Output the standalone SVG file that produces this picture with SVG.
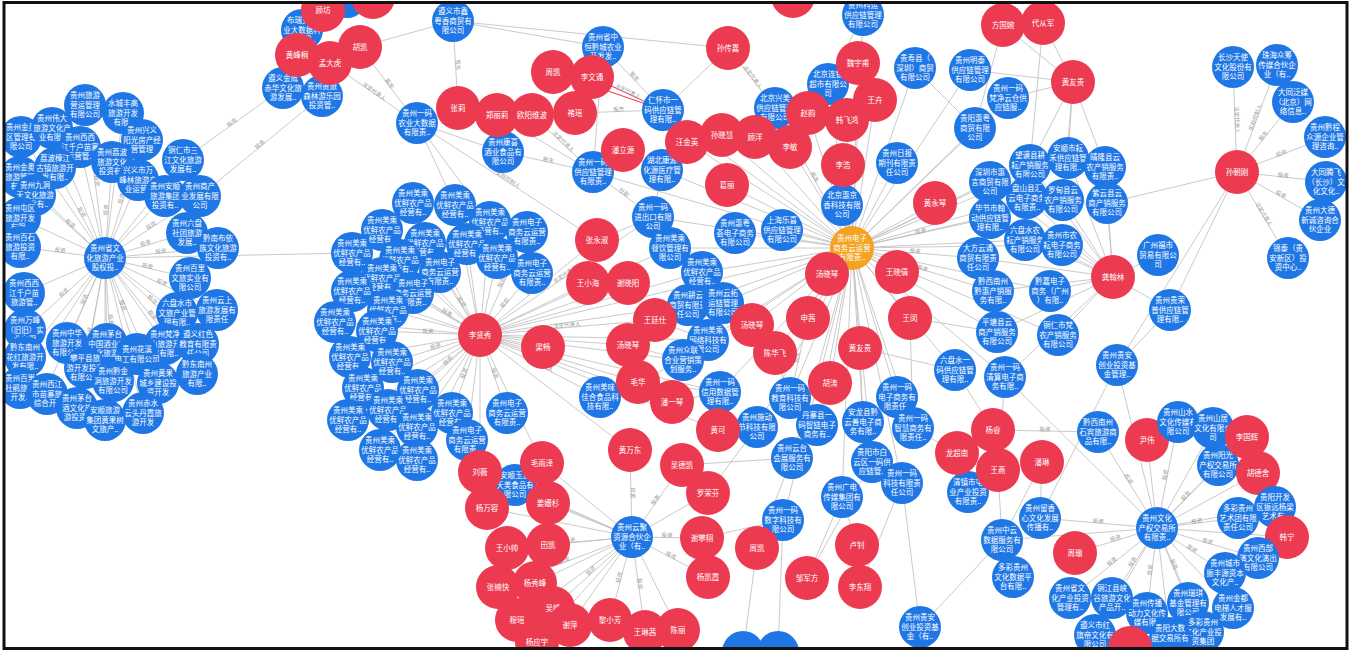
<svg xmlns="http://www.w3.org/2000/svg" width="1356" height="652" viewBox="0 0 1356 652">
<defs>
<style>
.b circle{fill:#1f77e5}
.r circle{fill:#ec3a50}
.o circle{fill:#f4a21f}
.nodes text{font-family:"Noto Sans CJK SC","Noto Sans",sans-serif;font-size:7.5px;fill:#fff;text-anchor:middle}
.edges line{stroke:#bdbdbd;stroke-width:0.8}
.edges line.hl{stroke:#e8344a;stroke-width:1}
.el text{font-family:"Noto Sans CJK SC","Noto Sans",sans-serif;font-size:5.5px;fill:#9a9a9a;text-anchor:middle}
</style>
<clipPath id="frame"><rect x="5" y="4" width="1341" height="644"/></clipPath>
</defs>
<rect width="1356" height="652" fill="#fff"/>
<g clip-path="url(#frame)">
<g id="connectors" class="edges">
<line x1="105" y1="258" x2="85" y2="105"/><line x1="105" y1="258" x2="123" y2="113"/><line x1="105" y1="258" x2="52" y2="128"/><line x1="105" y1="258" x2="21" y2="137"/><line x1="105" y1="258" x2="80" y2="147"/><line x1="105" y1="258" x2="142" y2="140"/><line x1="105" y1="258" x2="183" y2="160"/><line x1="105" y1="258" x2="112" y2="162"/><line x1="105" y1="258" x2="138" y2="180"/><line x1="105" y1="258" x2="55" y2="168"/><line x1="105" y1="258" x2="165" y2="196"/><line x1="105" y1="258" x2="200" y2="196"/><line x1="105" y1="258" x2="33" y2="193"/><line x1="105" y1="258" x2="187" y2="233"/><line x1="105" y1="258" x2="218" y2="248"/><line x1="105" y1="258" x2="190" y2="278"/><line x1="105" y1="258" x2="177" y2="313"/><line x1="105" y1="258" x2="217" y2="310"/><line x1="105" y1="258" x2="198" y2="344"/><line x1="105" y1="258" x2="165" y2="344"/><line x1="105" y1="258" x2="137" y2="354"/><line x1="105" y1="258" x2="107" y2="344"/><line x1="105" y1="258" x2="67" y2="343"/><line x1="105" y1="258" x2="25" y2="357"/><line x1="105" y1="258" x2="85" y2="368"/><line x1="105" y1="258" x2="113" y2="381"/><line x1="105" y1="258" x2="158" y2="383"/><line x1="105" y1="258" x2="197" y2="374"/><line x1="105" y1="258" x2="45" y2="392"/><line x1="105" y1="258" x2="20" y2="388"/><line x1="105" y1="258" x2="77" y2="408"/><line x1="105" y1="258" x2="105" y2="420"/><line x1="105" y1="258" x2="143" y2="413"/><line x1="105" y1="258" x2="25" y2="330"/><line x1="105" y1="258" x2="20" y2="247"/><line x1="105" y1="258" x2="20" y2="218"/><line x1="105" y1="258" x2="24" y2="293"/><line x1="105" y1="258" x2="20" y2="177"/><line x1="105" y1="258" x2="352" y2="253"/>
<line x1="183" y1="160" x2="283" y2="88"/><line x1="200" y1="196" x2="322" y2="96"/>
<line x1="330" y1="63" x2="417" y2="123"/><line x1="360" y1="47" x2="417" y2="123"/><line x1="453" y1="21" x2="458" y2="108"/><line x1="453" y1="21" x2="728" y2="48"/><line x1="453" y1="21" x2="603" y2="47"/><line x1="297" y1="55" x2="302" y2="30"/><line x1="360" y1="47" x2="453" y2="21"/>
<line class="hl" x1="553" y1="72" x2="663" y2="110"/><line class="hl" x1="592" y1="77" x2="663" y2="110"/>
<line x1="575" y1="113" x2="663" y2="110"/><line x1="603" y1="47" x2="663" y2="110"/><line x1="603" y1="47" x2="593" y2="172"/><line x1="532" y1="115" x2="593" y2="172"/><line x1="497" y1="115" x2="593" y2="172"/><line x1="503" y1="152" x2="593" y2="172"/><line x1="417" y1="123" x2="503" y2="152"/><line x1="417" y1="123" x2="455" y2="205"/><line x1="417" y1="123" x2="597" y2="240"/><line x1="417" y1="123" x2="490" y2="222"/><line x1="623" y1="150" x2="593" y2="172"/><line x1="623" y1="150" x2="662" y2="170"/><line x1="593" y1="172" x2="653" y2="217"/><line x1="662" y1="170" x2="653" y2="217"/><line x1="597" y1="240" x2="653" y2="217"/><line x1="597" y1="240" x2="480" y2="335"/><line x1="588" y1="283" x2="480" y2="335"/><line x1="628" y1="283" x2="480" y2="335"/><line x1="687" y1="142" x2="662" y2="170"/><line x1="728" y1="48" x2="775" y2="108"/><line x1="728" y1="48" x2="663" y2="110"/><line x1="863" y1="15" x2="828" y2="84"/><line x1="663" y1="110" x2="852" y2="248"/>
<line x1="852" y1="248" x2="863" y2="15"/><line x1="852" y1="248" x2="858" y2="63"/><line x1="852" y1="248" x2="828" y2="84"/><line x1="852" y1="248" x2="915" y2="68"/><line x1="852" y1="248" x2="970" y2="70"/><line x1="852" y1="248" x2="875" y2="100"/><line x1="852" y1="248" x2="847" y2="120"/><line x1="852" y1="248" x2="808" y2="113"/><line x1="852" y1="248" x2="790" y2="147"/><line x1="852" y1="248" x2="843" y2="165"/><line x1="852" y1="248" x2="897" y2="163"/><line x1="852" y1="248" x2="975" y2="128"/><line x1="852" y1="248" x2="1008" y2="98"/><line x1="852" y1="248" x2="842" y2="205"/><line x1="852" y1="248" x2="782" y2="230"/><line x1="852" y1="248" x2="735" y2="233"/><line x1="852" y1="248" x2="727" y2="185"/><line x1="852" y1="248" x2="775" y2="108"/><line x1="852" y1="248" x2="722" y2="135"/><line x1="852" y1="248" x2="755" y2="137"/><line x1="852" y1="248" x2="687" y2="142"/><line x1="852" y1="248" x2="935" y2="203"/><line x1="852" y1="248" x2="827" y2="274"/><line x1="852" y1="248" x2="897" y2="272"/><line x1="852" y1="248" x2="653" y2="217"/><line x1="852" y1="248" x2="670" y2="248"/><line x1="852" y1="248" x2="662" y2="170"/><line x1="852" y1="248" x2="593" y2="172"/><line x1="852" y1="248" x2="480" y2="335"/><line x1="852" y1="248" x2="990" y2="182"/><line x1="852" y1="248" x2="990" y2="218"/><line x1="852" y1="248" x2="978" y2="258"/><line x1="852" y1="248" x2="993" y2="291"/><line x1="852" y1="248" x2="997" y2="332"/><line x1="852" y1="248" x2="955" y2="370"/><line x1="852" y1="248" x2="1005" y2="377"/><line x1="852" y1="248" x2="1027" y2="198"/><line x1="852" y1="248" x2="1025" y2="240"/><line x1="852" y1="248" x2="1030" y2="165"/><line x1="852" y1="248" x2="1050" y2="291"/><line x1="852" y1="248" x2="1058" y2="335"/><line x1="852" y1="248" x2="1068" y2="158"/><line x1="852" y1="248" x2="1062" y2="245"/><line x1="852" y1="248" x2="1063" y2="200"/><line x1="852" y1="248" x2="702" y2="272"/><line x1="852" y1="248" x2="723" y2="303"/><line x1="852" y1="248" x2="752" y2="325"/><line x1="852" y1="248" x2="808" y2="318"/><line x1="852" y1="248" x2="910" y2="318"/><line x1="852" y1="248" x2="708" y2="340"/><line x1="852" y1="248" x2="775" y2="353"/><line x1="852" y1="248" x2="860" y2="348"/><line x1="852" y1="248" x2="830" y2="383"/><line x1="852" y1="248" x2="790" y2="398"/><line x1="852" y1="248" x2="897" y2="397"/><line x1="852" y1="248" x2="817" y2="425"/><line x1="852" y1="248" x2="863" y2="422"/><line x1="852" y1="248" x2="913" y2="428"/><line x1="852" y1="248" x2="720" y2="392"/><line x1="852" y1="248" x2="757" y2="427"/><line x1="852" y1="248" x2="792" y2="458"/><line x1="852" y1="248" x2="872" y2="462"/><line x1="852" y1="248" x2="902" y2="483"/><line x1="852" y1="248" x2="842" y2="497"/><line x1="852" y1="248" x2="783" y2="520"/><line x1="852" y1="248" x2="688" y2="305"/><line x1="852" y1="248" x2="683" y2="360"/>
<line x1="1073" y1="82" x2="1008" y2="98"/><line x1="1073" y1="82" x2="970" y2="70"/><line x1="1073" y1="82" x2="1068" y2="158"/><line x1="1073" y1="82" x2="1030" y2="165"/><line x1="1073" y1="82" x2="1105" y2="167"/><line x1="1073" y1="82" x2="1063" y2="200"/><line x1="1073" y1="82" x2="1003" y2="25"/><line x1="1073" y1="82" x2="1043" y2="23"/><line x1="1003" y1="25" x2="975" y2="128"/><line x1="1043" y1="23" x2="1030" y2="165"/><line x1="915" y1="68" x2="975" y2="128"/>
<line x1="1113" y1="277" x2="990" y2="182"/><line x1="1113" y1="277" x2="1068" y2="158"/><line x1="1113" y1="277" x2="1030" y2="165"/><line x1="1113" y1="277" x2="990" y2="218"/><line x1="1113" y1="277" x2="1027" y2="198"/><line x1="1113" y1="277" x2="1063" y2="200"/><line x1="1113" y1="277" x2="1025" y2="240"/><line x1="1113" y1="277" x2="1062" y2="245"/><line x1="1113" y1="277" x2="978" y2="258"/><line x1="1113" y1="277" x2="993" y2="291"/><line x1="1113" y1="277" x2="1050" y2="291"/><line x1="1113" y1="277" x2="1105" y2="167"/><line x1="1113" y1="277" x2="1107" y2="203"/><line x1="1113" y1="277" x2="997" y2="332"/><line x1="1113" y1="277" x2="1058" y2="335"/><line x1="1113" y1="277" x2="1158" y2="255"/><line x1="1113" y1="277" x2="1170" y2="310"/><line x1="1113" y1="277" x2="1005" y2="377"/>
<line x1="1237" y1="172" x2="1233" y2="67"/><line x1="1237" y1="172" x2="1277" y2="65"/><line x1="1237" y1="172" x2="1293" y2="102"/><line x1="1237" y1="172" x2="1327" y2="137"/><line x1="1237" y1="172" x2="1330" y2="182"/><line x1="1237" y1="172" x2="1322" y2="220"/><line x1="1237" y1="172" x2="1288" y2="258"/><line x1="1237" y1="172" x2="1107" y2="203"/><line x1="1237" y1="172" x2="1117" y2="365"/><line x1="1237" y1="172" x2="1170" y2="310"/>
<line x1="808" y1="318" x2="790" y2="398"/><line x1="775" y1="353" x2="790" y2="398"/><line x1="830" y1="383" x2="817" y2="425"/><line x1="860" y1="348" x2="863" y2="422"/><line x1="910" y1="318" x2="913" y2="428"/><line x1="638" y1="382" x2="720" y2="392"/><line x1="672" y1="402" x2="720" y2="392"/><line x1="718" y1="430" x2="757" y2="427"/><line x1="718" y1="430" x2="720" y2="392"/><line x1="655" y1="320" x2="708" y2="340"/><line x1="628" y1="345" x2="683" y2="360"/><line x1="638" y1="382" x2="683" y2="360"/><line x1="910" y1="318" x2="997" y2="332"/><line x1="860" y1="348" x2="955" y2="370"/>
<line x1="792" y1="458" x2="757" y2="548"/><line x1="783" y1="520" x2="757" y2="548"/><line x1="842" y1="497" x2="857" y2="545"/><line x1="902" y1="483" x2="860" y2="587"/><line x1="872" y1="462" x2="807" y2="578"/><line x1="842" y1="497" x2="807" y2="578"/><line x1="757" y1="427" x2="708" y2="493"/><line x1="792" y1="458" x2="682" y2="465"/><line x1="783" y1="520" x2="702" y2="538"/><line x1="902" y1="483" x2="920" y2="627"/><line x1="757" y1="548" x2="743" y2="652"/><line x1="783" y1="520" x2="778" y2="652"/>
<line x1="632" y1="537" x2="480" y2="472"/><line x1="632" y1="537" x2="542" y2="463"/><line x1="632" y1="537" x2="548" y2="503"/><line x1="632" y1="537" x2="487" y2="508"/><line x1="632" y1="537" x2="630" y2="450"/><line x1="632" y1="537" x2="682" y2="465"/><line x1="632" y1="537" x2="708" y2="493"/><line x1="632" y1="537" x2="702" y2="538"/><line x1="632" y1="537" x2="708" y2="577"/><line x1="632" y1="537" x2="507" y2="548"/><line x1="632" y1="537" x2="548" y2="545"/><line x1="632" y1="537" x2="498" y2="587"/><line x1="632" y1="537" x2="535" y2="583"/><line x1="632" y1="537" x2="553" y2="608"/><line x1="632" y1="537" x2="517" y2="620"/><line x1="632" y1="537" x2="570" y2="625"/><line x1="632" y1="537" x2="610" y2="620"/><line x1="632" y1="537" x2="645" y2="632"/><line x1="632" y1="537" x2="678" y2="630"/><line x1="632" y1="537" x2="537" y2="642"/><line x1="632" y1="537" x2="515" y2="485"/>
<line x1="480" y1="335" x2="630" y2="450"/><line x1="480" y1="335" x2="542" y2="463"/><line x1="480" y1="335" x2="480" y2="472"/><line x1="480" y1="335" x2="600" y2="397"/><line x1="515" y1="485" x2="480" y2="472"/><line x1="515" y1="485" x2="542" y2="463"/>
<line x1="480" y1="335" x2="413" y2="203"/><line x1="480" y1="335" x2="455" y2="205"/><line x1="480" y1="335" x2="490" y2="222"/><line x1="480" y1="335" x2="527" y2="232"/><line x1="480" y1="335" x2="382" y2="230"/><line x1="480" y1="335" x2="425" y2="243"/><line x1="480" y1="335" x2="467" y2="244"/><line x1="480" y1="335" x2="497" y2="258"/><line x1="480" y1="335" x2="532" y2="273"/><line x1="480" y1="335" x2="400" y2="260"/><line x1="480" y1="335" x2="440" y2="272"/><line x1="480" y1="335" x2="382" y2="278"/><line x1="480" y1="335" x2="352" y2="291"/><line x1="480" y1="335" x2="413" y2="293"/><line x1="480" y1="335" x2="388" y2="310"/><line x1="480" y1="335" x2="335" y2="322"/><line x1="480" y1="335" x2="377" y2="331"/><line x1="480" y1="335" x2="350" y2="357"/><line x1="480" y1="335" x2="392" y2="362"/><line x1="480" y1="335" x2="363" y2="388"/><line x1="480" y1="335" x2="418" y2="390"/><line x1="480" y1="335" x2="388" y2="410"/><line x1="480" y1="335" x2="452" y2="413"/><line x1="480" y1="335" x2="348" y2="420"/><line x1="480" y1="335" x2="417" y2="427"/><line x1="480" y1="335" x2="380" y2="450"/><line x1="480" y1="335" x2="417" y2="460"/><line x1="480" y1="335" x2="467" y2="440"/><line x1="480" y1="335" x2="507" y2="413"/><line x1="480" y1="335" x2="543" y2="347"/><line x1="480" y1="335" x2="352" y2="253"/><line x1="480" y1="335" x2="655" y2="320"/><line x1="480" y1="335" x2="628" y2="345"/><line x1="480" y1="335" x2="638" y2="382"/><line x1="480" y1="335" x2="672" y2="402"/><line x1="480" y1="335" x2="683" y2="360"/><line x1="480" y1="335" x2="720" y2="392"/><line x1="480" y1="335" x2="708" y2="340"/><line x1="480" y1="335" x2="688" y2="305"/><line x1="480" y1="335" x2="702" y2="272"/><line x1="480" y1="335" x2="670" y2="248"/><line x1="480" y1="335" x2="653" y2="217"/><line x1="480" y1="335" x2="718" y2="430"/>
<line x1="1157" y1="528" x2="1098" y2="432"/><line x1="1157" y1="528" x2="1147" y2="440"/><line x1="1157" y1="528" x2="1178" y2="422"/><line x1="1157" y1="528" x2="1213" y2="428"/><line x1="1157" y1="528" x2="1218" y2="465"/><line x1="1157" y1="528" x2="1247" y2="437"/><line x1="1157" y1="528" x2="1258" y2="473"/><line x1="1157" y1="528" x2="1238" y2="518"/><line x1="1157" y1="528" x2="1275" y2="507"/><line x1="1157" y1="528" x2="1287" y2="537"/><line x1="1157" y1="528" x2="1258" y2="558"/><line x1="1157" y1="528" x2="1225" y2="573"/><line x1="1157" y1="528" x2="1070" y2="598"/><line x1="1157" y1="528" x2="1112" y2="598"/><line x1="1157" y1="528" x2="1147" y2="613"/><line x1="1157" y1="528" x2="1188" y2="603"/><line x1="1157" y1="528" x2="1233" y2="608"/><line x1="1157" y1="528" x2="1095" y2="635"/><line x1="1157" y1="528" x2="1170" y2="638"/><line x1="1157" y1="528" x2="1203" y2="632"/><line x1="1157" y1="528" x2="1040" y2="518"/><line x1="1157" y1="528" x2="1075" y2="553"/><line x1="1157" y1="528" x2="1005" y2="377"/><line x1="1157" y1="528" x2="1117" y2="365"/><line x1="1157" y1="528" x2="1002" y2="540"/>
<line x1="993" y1="430" x2="1098" y2="432"/><line x1="957" y1="453" x2="968" y2="492"/><line x1="998" y1="470" x2="1002" y2="540"/><line x1="1042" y1="462" x2="1002" y2="540"/><line x1="1002" y1="540" x2="1013" y2="577"/><line x1="1002" y1="540" x2="920" y2="627"/><line x1="1040" y1="518" x2="1042" y2="462"/><line x1="955" y1="370" x2="993" y2="430"/><line x1="1005" y1="377" x2="998" y2="470"/><line x1="913" y1="428" x2="957" y2="453"/><line x1="1170" y1="310" x2="1117" y2="365"/><line x1="1117" y1="365" x2="1040" y2="518"/>
</g>
<g id="edge-labels" class="el">
<text transform="translate(95,181) rotate(83)">投资</text><text transform="translate(123,199) rotate(-73)">投资</text><text transform="translate(152,227) rotate(-33)">投资</text><text transform="translate(161,253) rotate(-5)">投资</text><text transform="translate(147,268) rotate(13)">投资</text><text transform="translate(161,284) rotate(25)">投资</text><text transform="translate(151,301) rotate(43)">投资</text><text transform="translate(121,306) rotate(72)">投资</text><text transform="translate(86,300) rotate(-66)">投资</text><text transform="translate(109,320) rotate(86)">投资</text><text transform="translate(65,294) rotate(-42)">投资</text><text transform="translate(60,252) rotate(7)">投资</text><text transform="translate(69,225) rotate(42)">投资</text><text transform="translate(80,213) rotate(61)">投资</text><text transform="translate(108,210) rotate(-86)">投资</text><text transform="translate(146,245) rotate(-17)">投资</text><text transform="translate(151,316) rotate(52)">投资</text><text transform="translate(91,333) rotate(-79)">投资</text>
<text transform="translate(373,93) rotate(35)">法定代表人</text><text transform="translate(388,85) rotate(53)">股东</text><text transform="translate(456,65) rotate(87)">股东</text><text transform="translate(233,124) rotate(-36)">投资</text><text transform="translate(261,146) rotate(-39)">投资</text>
<text transform="translate(627,93) rotate(25)">法定代表人</text><text transform="translate(619,111) rotate(-2)">股东</text><text transform="translate(633,78) rotate(46)">股东</text><text transform="translate(562,143) rotate(43)">法定代表人</text><text transform="translate(548,162) rotate(12)">股东</text><text transform="translate(623,194) rotate(37)">任职</text><text transform="translate(507,181) rotate(33)">实际控制人</text><text transform="translate(751,78) rotate(52)">法定代表人</text>
<text transform="translate(813,178) rotate(61)">股东</text><text transform="translate(915,253) rotate(4)">投资</text><text transform="translate(921,233) rotate(-12)">投资</text><text transform="translate(922,270) rotate(17)">投资</text><text transform="translate(821,323) rotate(-68)">任职</text><text transform="translate(881,283) rotate(50)">投资</text><text transform="translate(1051,247) rotate(26)">法定代表人</text>
<text transform="translate(1235,120) rotate(88)">法定代表人</text><text transform="translate(1257,118) rotate(-70)">实际控制人</text><text transform="translate(1265,137) rotate(-51)">股东</text><text transform="translate(1282,155) rotate(-21)">投资</text><text transform="translate(1283,177) rotate(6)">投资</text><text transform="translate(1280,196) rotate(30)">投资</text><text transform="translate(1262,215) rotate(59)">法定代表人</text>
<text transform="translate(1127,480) rotate(58)">投资</text><text transform="translate(1167,475) rotate(-79)">投资</text><text transform="translate(1187,497) rotate(-46)">投资</text><text transform="translate(1197,523) rotate(-7)">投资</text><text transform="translate(1098,523) rotate(5)">投资</text><text transform="translate(1116,540) rotate(-17)">投资</text><text transform="translate(1207,543) rotate(17)">投资</text><text transform="translate(1191,550) rotate(34)">投资</text><text transform="translate(1172,565) rotate(68)">投资</text><text transform="translate(1134,563) rotate(-57)">投资</text><text transform="translate(1152,570) rotate(-83)">投资</text><text transform="translate(1113,563) rotate(-39)">投资</text><text transform="translate(1045,431) rotate(1)">投资</text>
<text transform="translate(570,542) rotate(-5)">投资</text><text transform="translate(565,562) rotate(-20)">投资</text><text transform="translate(592,572) rotate(-42)">投资</text><text transform="translate(621,578) rotate(-75)">投资</text><text transform="translate(638,584) rotate(82)">投资</text><text transform="translate(667,537) rotate(1)">投资</text><text transform="translate(670,557) rotate(28)">投资</text><text transform="translate(631,493) rotate(89)">投资</text><text transform="translate(657,501) rotate(-55)">投资</text><text transform="translate(556,504) rotate(23)">投资</text>
<text transform="translate(503,283) rotate(-65)">投资</text><text transform="translate(506,304) rotate(-50)">投资</text><text transform="translate(460,303) rotate(58)">投资</text><text transform="translate(446,314) rotate(32)">投资</text><text transform="translate(428,333) rotate(2)">投资</text><text transform="translate(436,348) rotate(-17)">投资</text><text transform="translate(449,362) rotate(-42)">投资</text><text transform="translate(466,374) rotate(-70)">投资</text><text transform="translate(493,374) rotate(71)">投资</text><text transform="translate(540,366) rotate(27)">法定代表人</text><text transform="translate(567,327) rotate(-5)">法定代表人</text><text transform="translate(538,287) rotate(-39)">实际控制人</text><text transform="translate(566,276) rotate(-34)">法定代表人</text><text transform="translate(799,358) rotate(-77)">股东</text>
</g>
<g class="nodes">
<g id="L0" class="b" transform="translate(105,258)"><circle r="21"/><text><tspan x="0" y="-7">贵州省文</tspan><tspan x="0" y="2.5">化旅游产业</tspan><tspan x="0" y="12">股权投..</tspan></text></g>
<g id="L1" class="b" transform="translate(85,105)"><circle r="21"/><text><tspan x="0" y="-7">贵州旅游</tspan><tspan x="0" y="2.5">营运管理</tspan><tspan x="0" y="12">有限公司</tspan></text></g>
<g id="L2" class="b" transform="translate(123,113)"><circle r="21"/><text><tspan x="0" y="-7">水城丰高</tspan><tspan x="0" y="2.5">旅游开发</tspan><tspan x="0" y="12">有限..</tspan></text></g>
<g id="L4" class="b" transform="translate(21,137)"><circle r="21"/><text><tspan x="0" y="-7">贵州金奥</tspan><tspan x="0" y="2.5">区管理有</tspan><tspan x="0" y="12">限公司</tspan></text></g>
<g id="L3" class="b" transform="translate(52,128)"><circle r="21"/><text><tspan x="0" y="-7">贵州伟大</tspan><tspan x="0" y="2.5">旅游文化产</tspan><tspan x="0" y="12">业有限..</tspan></text></g>
<g id="L6" class="b" transform="translate(142,140)"><circle r="21"/><text><tspan x="0" y="-7">贵州兴义</tspan><tspan x="0" y="2.5">阳光房产经</tspan><tspan x="0" y="12">营管理</tspan></text></g>
<g id="L5" class="b" transform="translate(80,147)"><circle r="21"/><text><tspan x="0" y="-7">贵州西西</tspan><tspan x="0" y="2.5">江千户苗寨</tspan><tspan x="0" y="12">运营管..</tspan></text></g>
<g id="L38" class="b" transform="translate(20,177)"><circle r="21"/><text><tspan x="0" y="-7">贵州金奥</tspan><tspan x="0" y="2.5">旅游管理</tspan><tspan x="0" y="12">有限..</tspan></text></g>
<g id="L7" class="b" transform="translate(183,160)"><circle r="21"/><text><tspan x="0" y="-7">铜仁市三</tspan><tspan x="0" y="2.5">江文化旅游</tspan><tspan x="0" y="12">发展有..</tspan></text></g>
<g id="L10" class="b" transform="translate(55,168)"><circle r="21"/><text><tspan x="0" y="-7">荔波樟江</tspan><tspan x="0" y="2.5">古镇旅游开</tspan><tspan x="0" y="12">发有限..</tspan></text></g>
<g id="L8" class="b" transform="translate(112,162)"><circle r="21"/><text><tspan x="0" y="-7">贵州荔波</tspan><tspan x="0" y="2.5">旅游文化</tspan><tspan x="0" y="12">投资有..</tspan></text></g>
<g id="L9" class="b" transform="translate(138,180)"><circle r="21"/><text><tspan x="0" y="-7">兴义市万</tspan><tspan x="0" y="2.5">峰林旅游产</tspan><tspan x="0" y="12">业运营..</tspan></text></g>
<g id="L11" class="b" transform="translate(165,196)"><circle r="21"/><text><tspan x="0" y="-7">贵州安顺</tspan><tspan x="0" y="2.5">旅游集团</tspan><tspan x="0" y="12">投资有..</tspan></text></g>
<g id="L12" class="b" transform="translate(200,196)"><circle r="21"/><text><tspan x="0" y="-7">贵州商产</tspan><tspan x="0" y="2.5">业发展有限</tspan><tspan x="0" y="12">公司</tspan></text></g>
<g id="L13" class="b" transform="translate(35,195)"><circle r="21"/><text><tspan x="0" y="-7">贵州九洞</tspan><tspan x="0" y="2.5">天文化旅游</tspan><tspan x="0" y="12">开发有..</tspan></text></g>
<g id="L36" class="b" transform="translate(20,218)"><circle r="21"/><text><tspan x="0" y="-7">贵州屯区</tspan><tspan x="0" y="2.5">旅游开发</tspan><tspan x="0" y="12">有限..</tspan></text></g>
<g id="L14" class="b" transform="translate(187,233)"><circle r="21"/><text><tspan x="0" y="-7">贵州六盘</tspan><tspan x="0" y="2.5">社团旅游</tspan><tspan x="0" y="12">发展..</tspan></text></g>
<g id="L15" class="b" transform="translate(218,248)"><circle r="21"/><text><tspan x="0" y="-7">黔南布依</tspan><tspan x="0" y="2.5">族文化旅游</tspan><tspan x="0" y="12">投资有..</tspan></text></g>
<g id="L35" class="b" transform="translate(20,247)"><circle r="21"/><text><tspan x="0" y="-7">贵州百石</tspan><tspan x="0" y="2.5">旅游投资</tspan><tspan x="0" y="12">有限..</tspan></text></g>
<g id="L16" class="b" transform="translate(190,278)"><circle r="21"/><text><tspan x="0" y="-7">贵州百里</tspan><tspan x="0" y="2.5">文旅实业有</tspan><tspan x="0" y="12">限公司</tspan></text></g>
<g id="L37" class="b" transform="translate(24,293)"><circle r="21"/><text><tspan x="0" y="-7">贵州西西</tspan><tspan x="0" y="2.5">江千户苗</tspan><tspan x="0" y="12">旅游管..</tspan></text></g>
<g id="L17" class="b" transform="translate(177,313)"><circle r="21"/><text><tspan x="0" y="-7">六盘水市</tspan><tspan x="0" y="2.5">文旅产业管</tspan><tspan x="0" y="12">理有限..</tspan></text></g>
<g id="L18" class="b" transform="translate(217,310)"><circle r="21"/><text><tspan x="0" y="-7">贵州云上</tspan><tspan x="0" y="2.5">旅游发展有</tspan><tspan x="0" y="12">限责任</tspan></text></g>
<g id="L34" class="b" transform="translate(25,330)"><circle r="21"/><text><tspan x="0" y="-7">贵州万峰</tspan><tspan x="0" y="2.5">（旧旧）实</tspan><tspan x="0" y="12">业有限</tspan></text></g>
<g id="L23" class="b" transform="translate(67,343)"><circle r="21"/><text><tspan x="0" y="-7">贵州中华</tspan><tspan x="0" y="2.5">旅游开发</tspan><tspan x="0" y="12">有限公司</tspan></text></g>
<g id="L22" class="b" transform="translate(107,344)"><circle r="21"/><text><tspan x="0" y="-7">贵州茅台</tspan><tspan x="0" y="2.5">中国酒业文</tspan><tspan x="0" y="12">化旅游</tspan></text></g>
<g id="L20" class="b" transform="translate(165,344)"><circle r="21"/><text><tspan x="0" y="-7">贵州梵净</tspan><tspan x="0" y="2.5">山旅游开</tspan><tspan x="0" y="12">发有限..</tspan></text></g>
<g id="L19" class="b" transform="translate(198,344)"><circle r="21"/><text><tspan x="0" y="-7">遵义红色</tspan><tspan x="0" y="2.5">教育有限责</tspan><tspan x="0" y="12">任公司</tspan></text></g>
<g id="L21" class="b" transform="translate(137,354)"><circle r="21"/><text><tspan x="0" y="-2">贵州花溪</tspan><tspan x="0" y="7.5">电工有限公司</tspan></text></g>
<g id="L24" class="b" transform="translate(25,357)"><circle r="21"/><text><tspan x="0" y="-7">黔东南州</tspan><tspan x="0" y="2.5">花红旅游开</tspan><tspan x="0" y="12">发有限..</tspan></text></g>
<g id="L25" class="b" transform="translate(85,368)"><circle r="21"/><text><tspan x="0" y="-7">攀平县旅</tspan><tspan x="0" y="2.5">游开发投资</tspan><tspan x="0" y="12">有限公司</tspan></text></g>
<g id="L28" class="b" transform="translate(197,374)"><circle r="21"/><text><tspan x="0" y="-7">黔东南州</tspan><tspan x="0" y="2.5">旅游产业</tspan><tspan x="0" y="12">有限..</tspan></text></g>
<g id="L26" class="b" transform="translate(113,381)"><circle r="21"/><text><tspan x="0" y="-7">贵州黔金</tspan><tspan x="0" y="2.5">洞旅游开发</tspan><tspan x="0" y="12">有限公司</tspan></text></g>
<g id="L27" class="b" transform="translate(158,383)"><circle r="21"/><text><tspan x="0" y="-7">贵州黄果</tspan><tspan x="0" y="2.5">城乡建设投</tspan><tspan x="0" y="12">资开发</tspan></text></g>
<g id="L30" class="b" transform="translate(20,388)"><circle r="21"/><text><tspan x="0" y="-7">贵州百里</tspan><tspan x="0" y="2.5">杜鹃旅游</tspan><tspan x="0" y="12">开发..</tspan></text></g>
<g id="L29" class="b" transform="translate(47,394)"><circle r="21"/><text><tspan x="0" y="-7">贵州西江</tspan><tspan x="0" y="2.5">市苗寨旅</tspan><tspan x="0" y="12">综合开..</tspan></text></g>
<g id="L31" class="b" transform="translate(77,408)"><circle r="21"/><text><tspan x="0" y="-7">贵州茅台</tspan><tspan x="0" y="2.5">酒文化旅</tspan><tspan x="0" y="12">游投资..</tspan></text></g>
<g id="L33" class="b" transform="translate(143,413)"><circle r="21"/><text><tspan x="0" y="-7">贵州赤水</tspan><tspan x="0" y="2.5">云头丹霞旅</tspan><tspan x="0" y="12">游开发</tspan></text></g>
<g id="L32" class="b" transform="translate(105,420)"><circle r="21"/><text><tspan x="0" y="-7">安顺旅游</tspan><tspan x="0" y="2.5">集团黄果树</tspan><tspan x="0" y="12">文旅产..</tspan></text></g>
<g id="T10" class="b" transform="translate(347,-3)"><circle r="21"/></g>
<g id="T9" class="r" transform="translate(373,-3)"><circle r="22"/></g>
<g id="T2" class="b" transform="translate(302,30)"><circle r="21"/><text><tspan x="0" y="-7">布瑞克农</tspan><tspan x="0" y="2.5">业大数据科</tspan><tspan x="0" y="12">技集团..</tspan></text></g>
<g id="T1" class="r" transform="translate(323,10)"><circle r="22"/><text y="3">顾坊</text></g>
<g id="T6" class="b" transform="translate(283,88)"><circle r="21"/><text><tspan x="0" y="-7">遵义金鹰</tspan><tspan x="0" y="2.5">赤华文化旅</tspan><tspan x="0" y="12">游发展..</tspan></text></g>
<g id="T7" class="b" transform="translate(322,96)"><circle r="21"/><text><tspan x="0" y="-7">贵州贵旅</tspan><tspan x="0" y="2.5">森林游乐园</tspan><tspan x="0" y="12">投资管..</tspan></text></g>
<g id="T3" class="r" transform="translate(360,47)"><circle r="22"/><text y="3">胡凯</text></g>
<g id="T4" class="r" transform="translate(297,55)"><circle r="22"/><text y="3">黄峰桐</text></g>
<g id="T5" class="r" transform="translate(330,63)"><circle r="22"/><text y="3">孟大虎</text></g>
<g id="T8" class="b" transform="translate(453,21)"><circle r="21"/><text><tspan x="0" y="-7">遵义市鑫</tspan><tspan x="0" y="2.5">粤香商贸有</tspan><tspan x="0" y="12">限公司</tspan></text></g>
<g id="T11" class="r" transform="translate(793,-4)"><circle r="22"/></g>
<g id="C1" class="b" transform="translate(603,47)"><circle r="21"/><text><tspan x="0" y="-7">贵州省中</tspan><tspan x="0" y="2.5">恒黔城农业</tspan><tspan x="0" y="12">开发发..</tspan></text></g>
<g id="C2" class="r" transform="translate(553,72)"><circle r="22"/><text y="3">周凯</text></g>
<g id="C3" class="r" transform="translate(592,77)"><circle r="22"/><text y="3">李文通</text></g>
<g id="C9" class="b" transform="translate(417,123)"><circle r="21"/><text><tspan x="0" y="-7">贵州一码</tspan><tspan x="0" y="2.5">农业大数据</tspan><tspan x="0" y="12">有限责..</tspan></text></g>
<g id="C10" class="b" transform="translate(503,152)"><circle r="21"/><text><tspan x="0" y="-7">贵州康喜</tspan><tspan x="0" y="2.5">酒业食品有</tspan><tspan x="0" y="12">限公司</tspan></text></g>
<g id="C4" class="r" transform="translate(458,108)"><circle r="22"/><text y="3">张莉</text></g>
<g id="C5" class="r" transform="translate(497,115)"><circle r="22"/><text y="3">郑丽莉</text></g>
<g id="C6" class="r" transform="translate(532,115)"><circle r="22"/><text y="3">欧阳维波</text></g>
<g id="C7" class="r" transform="translate(575,113)"><circle r="22"/><text y="3">褚瑶</text></g>
<g id="C8" class="b" transform="translate(663,110)"><circle r="21"/><text><tspan x="0" y="-7">仁怀市一</tspan><tspan x="0" y="2.5">码供应链管</tspan><tspan x="0" y="12">理有限..</tspan></text></g>
<g id="C12" class="b" transform="translate(593,172)"><circle r="21"/><text><tspan x="0" y="-7">贵州一码</tspan><tspan x="0" y="2.5">供应链管理</tspan><tspan x="0" y="12">有限责..</tspan></text></g>
<g id="C13" class="b" transform="translate(662,170)"><circle r="21"/><text><tspan x="0" y="-7">湖北康源</tspan><tspan x="0" y="2.5">化源医疗管</tspan><tspan x="0" y="12">理有限..</tspan></text></g>
<g id="C11" class="r" transform="translate(623,150)"><circle r="22"/><text y="3">潘立源</text></g>
<g id="C14" class="b" transform="translate(653,217)"><circle r="21"/><text><tspan x="0" y="-7">贵州一码</tspan><tspan x="0" y="2.5">进出口有限</tspan><tspan x="0" y="12">公司</tspan></text></g>
<g id="C18" class="b" transform="translate(670,248)"><circle r="21"/><text><tspan x="0" y="-7">贵州美乘</tspan><tspan x="0" y="2.5">餐饮管理有</tspan><tspan x="0" y="12">限公司</tspan></text></g>
<g id="C15" class="r" transform="translate(597,240)"><circle r="22"/><text y="3">张永淑</text></g>
<g id="C16" class="r" transform="translate(588,283)"><circle r="22"/><text y="3">王小海</text></g>
<g id="C17" class="r" transform="translate(628,283)"><circle r="22"/><text y="3">谢晓阳</text></g>
<g id="C20" class="b" transform="translate(863,15)"><circle r="21"/><text><tspan x="0" y="-7">贵州科运</tspan><tspan x="0" y="2.5">供应链管理</tspan><tspan x="0" y="12">有限公司</tspan></text></g>
<g id="C21" class="r" transform="translate(728,48)"><circle r="22"/><text y="3">孙传嘉</text></g>
<g id="C23" class="b" transform="translate(828,84)"><circle r="21"/><text><tspan x="0" y="-7">北京连锁</tspan><tspan x="0" y="2.5">超市有限公</tspan><tspan x="0" y="12">司</tspan></text></g>
<g id="C22" class="r" transform="translate(858,63)"><circle r="22"/><text y="3">魏宇甫</text></g>
<g id="C24" class="b" transform="translate(915,68)"><circle r="21"/><text><tspan x="0" y="-7">贵寿县（</tspan><tspan x="0" y="2.5">深圳）商贸</tspan><tspan x="0" y="12">有限公司</tspan></text></g>
<g id="C25" class="b" transform="translate(970,70)"><circle r="21"/><text><tspan x="0" y="-7">贵州明泰</tspan><tspan x="0" y="2.5">供应链管理</tspan><tspan x="0" y="12">有限公司</tspan></text></g>
<g id="C26" class="r" transform="translate(1003,25)"><circle r="22"/><text y="3">方国婉</text></g>
<g id="C27" class="r" transform="translate(1043,23)"><circle r="22"/><text y="3">代从军</text></g>
<g id="C28" class="r" transform="translate(1073,82)"><circle r="22"/><text y="3">黄友贵</text></g>
<g id="C29" class="b" transform="translate(1008,98)"><circle r="21"/><text><tspan x="0" y="-7">贵州一码</tspan><tspan x="0" y="2.5">梵净云仓供</tspan><tspan x="0" y="12">应链服..</tspan></text></g>
<g id="C31" class="b" transform="translate(775,108)"><circle r="21"/><text><tspan x="0" y="-7">北京兴美</tspan><tspan x="0" y="2.5">供应链管理</tspan><tspan x="0" y="12">有限公司</tspan></text></g>
<g id="C30" class="r" transform="translate(875,100)"><circle r="22"/><text y="3">王卉</text></g>
<g id="C32" class="r" transform="translate(808,113)"><circle r="22"/><text y="3">赵韵</text></g>
<g id="C33" class="r" transform="translate(847,120)"><circle r="22"/><text y="3">韩飞鸿</text></g>
<g id="C36" class="r" transform="translate(687,142)"><circle r="22"/><text y="3">汪金英</text></g>
<g id="C34" class="r" transform="translate(722,135)"><circle r="22"/><text y="3">孙晓慧</text></g>
<g id="C35" class="r" transform="translate(755,137)"><circle r="22"/><text y="3">顾洋</text></g>
<g id="C37" class="r" transform="translate(790,147)"><circle r="22"/><text y="3">李敏</text></g>
<g id="C38" class="b" transform="translate(975,128)"><circle r="21"/><text><tspan x="0" y="-7">贵阳惠粤</tspan><tspan x="0" y="2.5">商贸有限</tspan><tspan x="0" y="12">公司</tspan></text></g>
<g id="C40" class="b" transform="translate(897,163)"><circle r="21"/><text><tspan x="0" y="-7">贵州日报</tspan><tspan x="0" y="2.5">期刊有限责</tspan><tspan x="0" y="12">任公司</tspan></text></g>
<g id="C43" class="b" transform="translate(842,205)"><circle r="21"/><text><tspan x="0" y="-7">北京惠京</tspan><tspan x="0" y="2.5">香科技有限</tspan><tspan x="0" y="12">公司</tspan></text></g>
<g id="C39" class="r" transform="translate(843,165)"><circle r="22"/><text y="3">李浩</text></g>
<g id="C41" class="r" transform="translate(727,185)"><circle r="22"/><text y="3">葛丽</text></g>
<g id="C42" class="r" transform="translate(935,203)"><circle r="22"/><text y="3">黄永琴</text></g>
<g id="C44" class="b" transform="translate(782,230)"><circle r="21"/><text><tspan x="0" y="-7">上海乐喜</tspan><tspan x="0" y="2.5">供应链管理</tspan><tspan x="0" y="12">有限公司</tspan></text></g>
<g id="C45" class="b" transform="translate(735,233)"><circle r="21"/><text><tspan x="0" y="-7">贵州惠粤</tspan><tspan x="0" y="2.5">荟电子商务</tspan><tspan x="0" y="12">有限公司</tspan></text></g>
<g id="D1" class="b" transform="translate(990,182)"><circle r="21"/><text><tspan x="0" y="-7">深圳市惠</tspan><tspan x="0" y="2.5">言商贸有限</tspan><tspan x="0" y="12">公司</tspan></text></g>
<g id="D3" class="b" transform="translate(1030,165)"><circle r="21"/><text><tspan x="0" y="-7">望谟县耕</tspan><tspan x="0" y="2.5">耘产销服务</tspan><tspan x="0" y="12">有限公司</tspan></text></g>
<g id="D2" class="b" transform="translate(1068,158)"><circle r="21"/><text><tspan x="0" y="-7">安顺市耘</tspan><tspan x="0" y="2.5">禾供应链管</tspan><tspan x="0" y="12">理有限..</tspan></text></g>
<g id="D12" class="b" transform="translate(1105,167)"><circle r="21"/><text><tspan x="0" y="-7">晴隆县云</tspan><tspan x="0" y="2.5">农产销服务</tspan><tspan x="0" y="12">有限责..</tspan></text></g>
<g id="D5" class="b" transform="translate(1027,198)"><circle r="21"/><text><tspan x="0" y="-7">盘山县汇</tspan><tspan x="0" y="2.5">云电子商务</tspan><tspan x="0" y="12">有限责..</tspan></text></g>
<g id="D6" class="b" transform="translate(1063,200)"><circle r="21"/><text><tspan x="0" y="-7">罗甸县云</tspan><tspan x="0" y="2.5">农产销服务</tspan><tspan x="0" y="12">有限公司</tspan></text></g>
<g id="D13" class="b" transform="translate(1107,203)"><circle r="21"/><text><tspan x="0" y="-7">紫云县云</tspan><tspan x="0" y="2.5">商产销服务</tspan><tspan x="0" y="12">有限公司</tspan></text></g>
<g id="D4" class="b" transform="translate(990,218)"><circle r="21"/><text><tspan x="0" y="-7">毕节市翰</tspan><tspan x="0" y="2.5">动供应链管</tspan><tspan x="0" y="12">理有限..</tspan></text></g>
<g id="D7" class="b" transform="translate(1025,240)"><circle r="21"/><text><tspan x="0" y="-7">六盘水农</tspan><tspan x="0" y="2.5">耘产销服务</tspan><tspan x="0" y="12">有限公司</tspan></text></g>
<g id="D8" class="b" transform="translate(1062,245)"><circle r="21"/><text><tspan x="0" y="-7">贵州市农</tspan><tspan x="0" y="2.5">耘电子商务</tspan><tspan x="0" y="12">有限公司</tspan></text></g>
<g id="D9" class="b" transform="translate(978,258)"><circle r="21"/><text><tspan x="0" y="-7">大方云通</tspan><tspan x="0" y="2.5">商贸有限责</tspan><tspan x="0" y="12">任公司</tspan></text></g>
<g id="D10" class="b" transform="translate(993,291)"><circle r="21"/><text><tspan x="0" y="-7">黔西南州</tspan><tspan x="0" y="2.5">黔惠产销服</tspan><tspan x="0" y="12">务有限..</tspan></text></g>
<g id="D11" class="b" transform="translate(1050,291)"><circle r="21"/><text><tspan x="0" y="-7">黔嘉电子</tspan><tspan x="0" y="2.5">商务（广州</tspan><tspan x="0" y="12">）有限..</tspan></text></g>
<g id="D15" class="b" transform="translate(997,332)"><circle r="21"/><text><tspan x="0" y="-7">平塘县云</tspan><tspan x="0" y="2.5">商产销服务</tspan><tspan x="0" y="12">有限公司</tspan></text></g>
<g id="D16" class="b" transform="translate(1058,335)"><circle r="21"/><text><tspan x="0" y="-7">铜仁市梵</tspan><tspan x="0" y="2.5">农产销服务</tspan><tspan x="0" y="12">有限公司</tspan></text></g>
<g id="D14" class="r" transform="translate(1113,277)"><circle r="22"/><text y="3">龚翰林</text></g>
<g id="D17" class="b" transform="translate(955,370)"><circle r="21"/><text><tspan x="0" y="-7">六盘水一</tspan><tspan x="0" y="2.5">码供应链管</tspan><tspan x="0" y="12">理有限..</tspan></text></g>
<g id="D18" class="b" transform="translate(1005,377)"><circle r="21"/><text><tspan x="0" y="-7">贵州一码</tspan><tspan x="0" y="2.5">清算电子商</tspan><tspan x="0" y="12">务有限..</tspan></text></g>
<g id="D19" class="b" transform="translate(1117,365)"><circle r="21"/><text><tspan x="0" y="-7">贵州贵安</tspan><tspan x="0" y="2.5">创业投资基</tspan><tspan x="0" y="12">金管理..</tspan></text></g>
<g id="D20" class="b" transform="translate(1158,255)"><circle r="21"/><text><tspan x="0" y="-7">广州福市</tspan><tspan x="0" y="2.5">贸易有限公</tspan><tspan x="0" y="12">司</tspan></text></g>
<g id="D21" class="b" transform="translate(1170,310)"><circle r="21"/><text><tspan x="0" y="-7">贵州贵荣</tspan><tspan x="0" y="2.5">普供应链管</tspan><tspan x="0" y="12">理有限..</tspan></text></g>
<g id="D22" class="r" transform="translate(1237,172)"><circle r="22"/><text y="3">孙朝刚</text></g>
<g id="D23" class="b" transform="translate(1233,67)"><circle r="21"/><text><tspan x="0" y="-7">长沙天使</tspan><tspan x="0" y="2.5">文化股份有</tspan><tspan x="0" y="12">限公司</tspan></text></g>
<g id="D24" class="b" transform="translate(1277,65)"><circle r="21"/><text><tspan x="0" y="-7">珠海众筹</tspan><tspan x="0" y="2.5">传媒合伙企</tspan><tspan x="0" y="12">业（有..</tspan></text></g>
<g id="D25" class="b" transform="translate(1293,102)"><circle r="21"/><text><tspan x="0" y="-7">大同泛媒</tspan><tspan x="0" y="2.5">（北京）网</tspan><tspan x="0" y="12">络信息..</tspan></text></g>
<g id="D26" class="b" transform="translate(1325,137)"><circle r="21"/><text><tspan x="0" y="-7">贵州黔程</tspan><tspan x="0" y="2.5">众源企业管</tspan><tspan x="0" y="12">理咨询..</tspan></text></g>
<g id="D27" class="b" transform="translate(1326,182)"><circle r="21"/><text><tspan x="0" y="-7">大同腾飞</tspan><tspan x="0" y="2.5">（长沙）文</tspan><tspan x="0" y="12">化文化..</tspan></text></g>
<g id="D28" class="b" transform="translate(1320,220)"><circle r="21"/><text><tspan x="0" y="-7">贵州大德</tspan><tspan x="0" y="2.5">新诚咨询合</tspan><tspan x="0" y="12">伙企业</tspan></text></g>
<g id="D29" class="b" transform="translate(1288,258)"><circle r="21"/><text><tspan x="0" y="-7">锦泰（贵</tspan><tspan x="0" y="2.5">安新区）投</tspan><tspan x="0" y="12">资中心..</tspan></text></g>
<g id="K1" class="b" transform="translate(413,203)"><circle r="21"/><text><tspan x="0" y="-7">贵州美乘</tspan><tspan x="0" y="2.5">优鲜农产品</tspan><tspan x="0" y="12">经营有..</tspan></text></g>
<g id="K2" class="b" transform="translate(455,205)"><circle r="21"/><text><tspan x="0" y="-7">贵州美乘</tspan><tspan x="0" y="2.5">优鲜农产品</tspan><tspan x="0" y="12">经营有..</tspan></text></g>
<g id="K3" class="b" transform="translate(490,222)"><circle r="21"/><text><tspan x="0" y="-7">贵州美乘</tspan><tspan x="0" y="2.5">优鲜农产品</tspan><tspan x="0" y="12">经营有..</tspan></text></g>
<g id="K4" class="b" transform="translate(527,232)"><circle r="21"/><text><tspan x="0" y="-7">贵州电子</tspan><tspan x="0" y="2.5">商务云运营</tspan><tspan x="0" y="12">有限责..</tspan></text></g>
<g id="K5" class="b" transform="translate(382,230)"><circle r="21"/><text><tspan x="0" y="-7">贵州美乘</tspan><tspan x="0" y="2.5">优鲜农产品</tspan><tspan x="0" y="12">经营有..</tspan></text></g>
<g id="K6" class="b" transform="translate(425,243)"><circle r="21"/><text><tspan x="0" y="-7">贵州美乘</tspan><tspan x="0" y="2.5">优鲜农产品</tspan><tspan x="0" y="12">经营有..</tspan></text></g>
<g id="K7" class="b" transform="translate(467,244)"><circle r="21"/><text><tspan x="0" y="-7">贵州美乘</tspan><tspan x="0" y="2.5">优鲜农产品</tspan><tspan x="0" y="12">经营有..</tspan></text></g>
<g id="K8" class="b" transform="translate(497,258)"><circle r="21"/><text><tspan x="0" y="-7">贵州美乘</tspan><tspan x="0" y="2.5">优鲜农产品</tspan><tspan x="0" y="12">经营有..</tspan></text></g>
<g id="K9" class="b" transform="translate(532,273)"><circle r="21"/><text><tspan x="0" y="-7">贵州电子</tspan><tspan x="0" y="2.5">商务云运营</tspan><tspan x="0" y="12">有限责..</tspan></text></g>
<g id="K10" class="b" transform="translate(352,253)"><circle r="21"/><text><tspan x="0" y="-7">贵州美乘</tspan><tspan x="0" y="2.5">优鲜农产品</tspan><tspan x="0" y="12">经营有..</tspan></text></g>
<g id="K11" class="b" transform="translate(400,260)"><circle r="21"/><text><tspan x="0" y="-7">贵州美乘</tspan><tspan x="0" y="2.5">优鲜农产品</tspan><tspan x="0" y="12">经营有..</tspan></text></g>
<g id="K12" class="b" transform="translate(440,272)"><circle r="21"/><text><tspan x="0" y="-7">贵州电子</tspan><tspan x="0" y="2.5">商务云运营</tspan><tspan x="0" y="12">有限责..</tspan></text></g>
<g id="K13" class="b" transform="translate(382,278)"><circle r="21"/><text><tspan x="0" y="-7">贵州美乘</tspan><tspan x="0" y="2.5">优鲜农产品</tspan><tspan x="0" y="12">经营有..</tspan></text></g>
<g id="K14" class="b" transform="translate(352,291)"><circle r="21"/><text><tspan x="0" y="-7">贵州美乘</tspan><tspan x="0" y="2.5">优鲜农产品</tspan><tspan x="0" y="12">经营有..</tspan></text></g>
<g id="K15" class="b" transform="translate(413,293)"><circle r="21"/><text><tspan x="0" y="-7">贵州电子</tspan><tspan x="0" y="2.5">商务云运营</tspan><tspan x="0" y="12">有限责..</tspan></text></g>
<g id="K16" class="b" transform="translate(388,310)"><circle r="21"/><text><tspan x="0" y="-7">贵州美乘</tspan><tspan x="0" y="2.5">优鲜农产品</tspan><tspan x="0" y="12">经营有..</tspan></text></g>
<g id="K17" class="b" transform="translate(335,322)"><circle r="21"/><text><tspan x="0" y="-7">贵州美乘</tspan><tspan x="0" y="2.5">优鲜农产品</tspan><tspan x="0" y="12">经营有..</tspan></text></g>
<g id="K18" class="b" transform="translate(377,331)"><circle r="21"/><text><tspan x="0" y="-7">贵州美乘</tspan><tspan x="0" y="2.5">优鲜农产品</tspan><tspan x="0" y="12">经营有..</tspan></text></g>
<g id="K19" class="b" transform="translate(350,357)"><circle r="21"/><text><tspan x="0" y="-7">贵州美乘</tspan><tspan x="0" y="2.5">优鲜农产品</tspan><tspan x="0" y="12">经营有..</tspan></text></g>
<g id="K20" class="b" transform="translate(392,362)"><circle r="21"/><text><tspan x="0" y="-7">贵州美乘</tspan><tspan x="0" y="2.5">优鲜农产品</tspan><tspan x="0" y="12">经营有..</tspan></text></g>
<g id="K21" class="b" transform="translate(363,388)"><circle r="21"/><text><tspan x="0" y="-7">贵州美乘</tspan><tspan x="0" y="2.5">优鲜农产品</tspan><tspan x="0" y="12">经营有..</tspan></text></g>
<g id="K22" class="b" transform="translate(418,390)"><circle r="21"/><text><tspan x="0" y="-7">贵州美乘</tspan><tspan x="0" y="2.5">优鲜农产品</tspan><tspan x="0" y="12">经营有..</tspan></text></g>
<g id="K23" class="b" transform="translate(388,410)"><circle r="21"/><text><tspan x="0" y="-7">贵州美乘</tspan><tspan x="0" y="2.5">优鲜农产品</tspan><tspan x="0" y="12">经营有..</tspan></text></g>
<g id="K24" class="b" transform="translate(452,413)"><circle r="21"/><text><tspan x="0" y="-7">贵州美乘</tspan><tspan x="0" y="2.5">优鲜农产品</tspan><tspan x="0" y="12">经营有..</tspan></text></g>
<g id="K25" class="b" transform="translate(348,420)"><circle r="21"/><text><tspan x="0" y="-7">贵州美乘</tspan><tspan x="0" y="2.5">优鲜农产品</tspan><tspan x="0" y="12">经营有..</tspan></text></g>
<g id="K26" class="b" transform="translate(417,427)"><circle r="21"/><text><tspan x="0" y="-7">贵州美乘</tspan><tspan x="0" y="2.5">优鲜农产品</tspan><tspan x="0" y="12">经营有..</tspan></text></g>
<g id="K29" class="b" transform="translate(467,440)"><circle r="21"/><text><tspan x="0" y="-7">贵州电子</tspan><tspan x="0" y="2.5">商务云运营</tspan><tspan x="0" y="12">有限责..</tspan></text></g>
<g id="K27" class="b" transform="translate(380,450)"><circle r="21"/><text><tspan x="0" y="-7">贵州美乘</tspan><tspan x="0" y="2.5">优鲜农产品</tspan><tspan x="0" y="12">经营有..</tspan></text></g>
<g id="K28" class="b" transform="translate(417,460)"><circle r="21"/><text><tspan x="0" y="-7">贵州美乘</tspan><tspan x="0" y="2.5">优鲜农产品</tspan><tspan x="0" y="12">经营有..</tspan></text></g>
<g id="K30" class="b" transform="translate(507,413)"><circle r="21"/><text><tspan x="0" y="-7">贵州电子</tspan><tspan x="0" y="2.5">商务云运营</tspan><tspan x="0" y="12">有限责..</tspan></text></g>
<g id="K0" class="r" transform="translate(480,335)"><circle r="22"/><text y="3">李贤秀</text></g>
<g id="K31" class="r" transform="translate(543,347)"><circle r="22"/><text y="3">梁畅</text></g>
<g id="K32" class="b" transform="translate(600,397)"><circle r="21"/><text><tspan x="0" y="-7">贵州美味</tspan><tspan x="0" y="2.5">佳合食品科</tspan><tspan x="0" y="12">技有限..</tspan></text></g>
<g id="M5" class="b" transform="translate(702,272)"><circle r="21"/><text><tspan x="0" y="-7">贵州美乘</tspan><tspan x="0" y="2.5">优鲜农产品</tspan><tspan x="0" y="12">经营有..</tspan></text></g>
<g id="M6" class="b" transform="translate(688,305)"><circle r="21"/><text><tspan x="0" y="-7">贵州耕云</tspan><tspan x="0" y="2.5">商贸有限责</tspan><tspan x="0" y="12">任公司</tspan></text></g>
<g id="M7" class="b" transform="translate(723,303)"><circle r="21"/><text><tspan x="0" y="-7">贵州云拓</tspan><tspan x="0" y="2.5">运链管理</tspan><tspan x="0" y="12">有限公司</tspan></text></g>
<g id="M11" class="b" transform="translate(708,340)"><circle r="21"/><text><tspan x="0" y="-7">贵州美乘</tspan><tspan x="0" y="2.5">网络科技有</tspan><tspan x="0" y="12">限公司</tspan></text></g>
<g id="M13" class="b" transform="translate(683,360)"><circle r="21"/><text><tspan x="0" y="-7">贵州众联</tspan><tspan x="0" y="2.5">合业营销策</tspan><tspan x="0" y="12">划服务..</tspan></text></g>
<g id="M1" class="r" transform="translate(655,320)"><circle r="22"/><text y="3">王廷仕</text></g>
<g id="M2" class="r" transform="translate(628,345)"><circle r="22"/><text y="3">汤晓琴</text></g>
<g id="M3" class="r" transform="translate(638,382)"><circle r="22"/><text y="3">毛华</text></g>
<g id="M4" class="r" transform="translate(672,402)"><circle r="22"/><text y="3">潘一琴</text></g>
<g id="O" class="o" transform="translate(852,248)"><circle r="22"/><text><tspan x="0" y="-7">贵州电子</tspan><tspan x="0" y="2.5">商务云运营</tspan><tspan x="0" y="12">有限责..</tspan></text></g>
<g id="C46" class="r" transform="translate(827,274)"><circle r="22"/><text y="3">汤晓琴</text></g>
<g id="C47" class="r" transform="translate(897,272)"><circle r="22"/><text y="3">王晓倩</text></g>
<g id="M8" class="r" transform="translate(752,325)"><circle r="22"/><text y="3">汤晓琴</text></g>
<g id="M9" class="r" transform="translate(808,318)"><circle r="22"/><text y="3">申茜</text></g>
<g id="M10" class="r" transform="translate(910,318)"><circle r="22"/><text y="3">王闵</text></g>
<g id="M12" class="r" transform="translate(775,353)"><circle r="22"/><text y="3">陈华飞</text></g>
<g id="M14" class="r" transform="translate(860,348)"><circle r="22"/><text y="3">黄友贵</text></g>
<g id="M16" class="b" transform="translate(720,392)"><circle r="21"/><text><tspan x="0" y="-7">贵州一码</tspan><tspan x="0" y="2.5">信用数据管</tspan><tspan x="0" y="12">理有限..</tspan></text></g>
<g id="M17" class="b" transform="translate(790,398)"><circle r="21"/><text><tspan x="0" y="-7">贵州一码</tspan><tspan x="0" y="2.5">教育科技有</tspan><tspan x="0" y="12">限公司</tspan></text></g>
<g id="M15" class="r" transform="translate(830,383)"><circle r="22"/><text y="3">胡涛</text></g>
<g id="M18" class="b" transform="translate(897,397)"><circle r="21"/><text><tspan x="0" y="-7">贵州一码</tspan><tspan x="0" y="2.5">电子商务有</tspan><tspan x="0" y="12">限责任..</tspan></text></g>
<g id="M20" class="b" transform="translate(757,427)"><circle r="21"/><text><tspan x="0" y="-7">贵州施动</tspan><tspan x="0" y="2.5">节科技有限</tspan><tspan x="0" y="12">公司</tspan></text></g>
<g id="M19" class="r" transform="translate(718,430)"><circle r="22"/><text y="3">黄可</text></g>
<g id="M21" class="b" transform="translate(817,425)"><circle r="21"/><text><tspan x="0" y="-7">丹寨县一</tspan><tspan x="0" y="2.5">码智链电子</tspan><tspan x="0" y="12">商务有..</tspan></text></g>
<g id="M22" class="b" transform="translate(863,422)"><circle r="21"/><text><tspan x="0" y="-7">安龙县黔</tspan><tspan x="0" y="2.5">云善电子商</tspan><tspan x="0" y="12">务有限..</tspan></text></g>
<g id="M23" class="b" transform="translate(913,428)"><circle r="21"/><text><tspan x="0" y="-7">贵州一码</tspan><tspan x="0" y="2.5">智慧商务有</tspan><tspan x="0" y="12">限责任..</tspan></text></g>
<g id="M24" class="b" transform="translate(792,458)"><circle r="21"/><text><tspan x="0" y="-7">贵州云台</tspan><tspan x="0" y="2.5">会展服务有</tspan><tspan x="0" y="12">限公司</tspan></text></g>
<g id="M25" class="b" transform="translate(872,462)"><circle r="21"/><text><tspan x="0" y="-7">贵阳市白</tspan><tspan x="0" y="2.5">云区一码供</tspan><tspan x="0" y="12">应链管..</tspan></text></g>
<g id="M26" class="b" transform="translate(902,483)"><circle r="21"/><text><tspan x="0" y="-7">贵州一码</tspan><tspan x="0" y="2.5">科技有限责</tspan><tspan x="0" y="12">任公司</tspan></text></g>
<g id="M27" class="b" transform="translate(842,497)"><circle r="21"/><text><tspan x="0" y="-7">贵州广电</tspan><tspan x="0" y="2.5">传媒集团有</tspan><tspan x="0" y="12">限公司</tspan></text></g>
<g id="M28" class="b" transform="translate(783,520)"><circle r="21"/><text><tspan x="0" y="-7">贵州一码</tspan><tspan x="0" y="2.5">数字科技有</tspan><tspan x="0" y="12">限公司</tspan></text></g>
<g id="P0" class="b" transform="translate(632,537)"><circle r="21"/><text><tspan x="0" y="-7">贵州云聚</tspan><tspan x="0" y="2.5">资源合伙企</tspan><tspan x="0" y="12">业（有..</tspan></text></g>
<g id="P3" class="b" transform="translate(515,485)"><circle r="21"/><text><tspan x="0" y="-7">安顺玉丘</tspan><tspan x="0" y="2.5">天美食品有</tspan><tspan x="0" y="12">限公司</tspan></text></g>
<g id="P1" class="r" transform="translate(480,472)"><circle r="22"/><text y="3">刘薇</text></g>
<g id="P2" class="r" transform="translate(542,463)"><circle r="22"/><text y="3">毛雨泽</text></g>
<g id="P4" class="r" transform="translate(548,503)"><circle r="22"/><text y="3">姜姗杉</text></g>
<g id="P5" class="r" transform="translate(487,508)"><circle r="22"/><text y="3">杨万容</text></g>
<g id="P6" class="r" transform="translate(630,450)"><circle r="22"/><text y="3">黄万东</text></g>
<g id="P7" class="r" transform="translate(682,465)"><circle r="22"/><text y="3">吴德凯</text></g>
<g id="P8" class="r" transform="translate(708,493)"><circle r="22"/><text y="3">罗荣芬</text></g>
<g id="P9" class="r" transform="translate(702,538)"><circle r="22"/><text y="3">谢攀栩</text></g>
<g id="P10" class="r" transform="translate(708,577)"><circle r="22"/><text y="3">杨凯霞</text></g>
<g id="P11" class="r" transform="translate(757,548)"><circle r="22"/><text y="3">周凯</text></g>
<g id="P12" class="r" transform="translate(807,578)"><circle r="22"/><text y="3">邹军方</text></g>
<g id="P13" class="r" transform="translate(857,545)"><circle r="22"/><text y="3">卢钊</text></g>
<g id="P14" class="r" transform="translate(860,587)"><circle r="22"/><text y="3">李东翔</text></g>
<g id="P15" class="r" transform="translate(507,548)"><circle r="22"/><text y="3">王小帅</text></g>
<g id="P16" class="r" transform="translate(548,545)"><circle r="22"/><text y="3">田凯</text></g>
<g id="P17" class="r" transform="translate(498,587)"><circle r="22"/><text y="3">张楠快</text></g>
<g id="P18" class="r" transform="translate(535,583)"><circle r="22"/><text y="3">杨秀峰</text></g>
<g id="P19" class="r" transform="translate(553,608)"><circle r="22"/><text y="3">吴峰</text></g>
<g id="P20" class="r" transform="translate(517,620)"><circle r="22"/><text y="3">穆瑶</text></g>
<g id="P21" class="r" transform="translate(570,625)"><circle r="22"/><text y="3">谢萍</text></g>
<g id="P22" class="r" transform="translate(610,620)"><circle r="22"/><text y="3">黎小芳</text></g>
<g id="P23" class="r" transform="translate(645,632)"><circle r="22"/><text y="3">王琳茜</text></g>
<g id="P24" class="r" transform="translate(678,630)"><circle r="22"/><text y="3">陈丽</text></g>
<g id="P25" class="r" transform="translate(537,642)"><circle r="22"/><text y="3">杨应宇</text></g>
<g id="P26" class="b" transform="translate(920,627)"><circle r="21"/><text><tspan x="0" y="-7">贵州贵安</tspan><tspan x="0" y="2.5">创业投资基</tspan><tspan x="0" y="12">金（有..</tspan></text></g>
<g id="P27" class="b" transform="translate(743,652)"><circle r="21"/></g>
<g id="P28" class="b" transform="translate(778,652)"><circle r="21"/></g>
<g id="Q5" class="b" transform="translate(968,492)"><circle r="21"/><text><tspan x="0" y="-7">清镇市屯</tspan><tspan x="0" y="2.5">业产业投资</tspan><tspan x="0" y="12">有限责..</tspan></text></g>
<g id="Q1" class="r" transform="translate(993,430)"><circle r="22"/><text y="3">杨睿</text></g>
<g id="Q2" class="r" transform="translate(957,453)"><circle r="22"/><text y="3">龙超南</text></g>
<g id="Q3" class="r" transform="translate(998,470)"><circle r="22"/><text y="3">王燕</text></g>
<g id="Q4" class="r" transform="translate(1042,462)"><circle r="22"/><text y="3">潘琳</text></g>
<g id="Q6" class="b" transform="translate(1098,432)"><circle r="21"/><text><tspan x="0" y="-7">黔西南州</tspan><tspan x="0" y="2.5">石宾旅游商</tspan><tspan x="0" y="12">品有限..</tspan></text></g>
<g id="Q7" class="r" transform="translate(1147,440)"><circle r="22"/><text y="3">尹伟</text></g>
<g id="Q8" class="b" transform="translate(1178,422)"><circle r="21"/><text><tspan x="0" y="-7">贵州山水</tspan><tspan x="0" y="2.5">文化传媒有</tspan><tspan x="0" y="12">限公司</tspan></text></g>
<g id="Q9" class="b" transform="translate(1213,428)"><circle r="21"/><text><tspan x="0" y="-7">贵州山居</tspan><tspan x="0" y="2.5">文化有限公</tspan><tspan x="0" y="12">司</tspan></text></g>
<g id="Q11" class="b" transform="translate(1218,465)"><circle r="21"/><text><tspan x="0" y="-7">贵州阳光</tspan><tspan x="0" y="2.5">产权交易所</tspan><tspan x="0" y="12">有限公司</tspan></text></g>
<g id="Q10" class="r" transform="translate(1247,437)"><circle r="22"/><text y="3">李国辉</text></g>
<g id="Q12" class="r" transform="translate(1258,473)"><circle r="22"/><text y="3">胡德舍</text></g>
<g id="Q13" class="b" transform="translate(1040,518)"><circle r="21"/><text><tspan x="0" y="-7">贵州留香</tspan><tspan x="0" y="2.5">心文化发展</tspan><tspan x="0" y="12">传播有..</tspan></text></g>
<g id="Q14" class="b" transform="translate(1002,540)"><circle r="21"/><text><tspan x="0" y="-7">贵州中云</tspan><tspan x="0" y="2.5">数据服务有</tspan><tspan x="0" y="12">限公司</tspan></text></g>
<g id="Q15" class="r" transform="translate(1075,553)"><circle r="22"/><text y="3">周瑜</text></g>
<g id="Q16" class="b" transform="translate(1013,577)"><circle r="21"/><text><tspan x="0" y="-7">多彩贵州</tspan><tspan x="0" y="2.5">文化数据平</tspan><tspan x="0" y="12">台有限..</tspan></text></g>
<g id="Q0" class="b" transform="translate(1157,528)"><circle r="21"/><text><tspan x="0" y="-7">贵州文化</tspan><tspan x="0" y="2.5">产权交易所</tspan><tspan x="0" y="12">有限责..</tspan></text></g>
<g id="Q18" class="b" transform="translate(1275,507)"><circle r="21"/><text><tspan x="0" y="-7">贵阳开发</tspan><tspan x="0" y="2.5">区振远杨梁</tspan><tspan x="0" y="12">艺术有..</tspan></text></g>
<g id="Q17" class="b" transform="translate(1238,518)"><circle r="21"/><text><tspan x="0" y="-7">多彩贵州</tspan><tspan x="0" y="2.5">艺术团有限</tspan><tspan x="0" y="12">责任公司</tspan></text></g>
<g id="Q19" class="r" transform="translate(1287,537)"><circle r="22"/><text y="3">韩宁</text></g>
<g id="Q20" class="b" transform="translate(1258,558)"><circle r="21"/><text><tspan x="0" y="-7">贵州西部</tspan><tspan x="0" y="2.5">演文化演出</tspan><tspan x="0" y="12">有限公司</tspan></text></g>
<g id="Q21" class="b" transform="translate(1225,573)"><circle r="21"/><text><tspan x="0" y="-7">贵州城市</tspan><tspan x="0" y="2.5">振丰源资本</tspan><tspan x="0" y="12">文化产..</tspan></text></g>
<g id="Q22" class="b" transform="translate(1070,598)"><circle r="21"/><text><tspan x="0" y="-7">贵州省文</tspan><tspan x="0" y="2.5">化产业投资</tspan><tspan x="0" y="12">管理有..</tspan></text></g>
<g id="Q23" class="b" transform="translate(1112,598)"><circle r="21"/><text><tspan x="0" y="-7">铜江县峡</tspan><tspan x="0" y="2.5">谷旅游文化</tspan><tspan x="0" y="12">产品开..</tspan></text></g>
<g id="Q25" class="b" transform="translate(1188,603)"><circle r="21"/><text><tspan x="0" y="-7">贵州瑞琪</tspan><tspan x="0" y="2.5">基金管理有</tspan><tspan x="0" y="12">限公司</tspan></text></g>
<g id="Q26" class="b" transform="translate(1233,608)"><circle r="21"/><text><tspan x="0" y="-7">贵州金都</tspan><tspan x="0" y="2.5">电梯人才服</tspan><tspan x="0" y="12">发展有..</tspan></text></g>
<g id="Q24" class="b" transform="translate(1147,613)"><circle r="21"/><text><tspan x="0" y="-7">贵州传播</tspan><tspan x="0" y="2.5">动力文化传</tspan><tspan x="0" y="12">媒有限..</tspan></text></g>
<g id="Q27" class="b" transform="translate(1095,635)"><circle r="21"/><text><tspan x="0" y="-7">遵义市红</tspan><tspan x="0" y="2.5">旗帝文化有</tspan><tspan x="0" y="12">限公司</tspan></text></g>
<g id="Q29" class="b" transform="translate(1203,632)"><circle r="21"/><text><tspan x="0" y="-7">多彩贵州</tspan><tspan x="0" y="2.5">文化产业投</tspan><tspan x="0" y="12">资集团</tspan></text></g>
<g id="Q28" class="b" transform="translate(1170,638)"><circle r="21"/><text><tspan x="0" y="-7">贵阳大数</tspan><tspan x="0" y="2.5">据交易所有</tspan></text></g>
<g id="Q30" class="r" transform="translate(1130,648)"><circle r="22"/></g>
</g>
</g>
<rect x="4" y="2.5" width="1343" height="646" fill="none" stroke="#111" stroke-width="3"/>
</svg>
